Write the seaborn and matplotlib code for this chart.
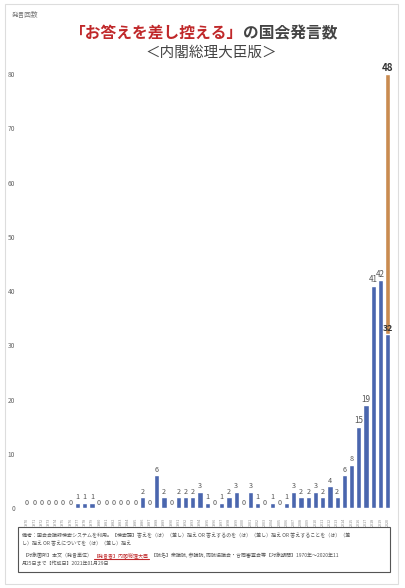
#!/usr/bin/env python3
import numpy as np
import pandas as pd
import seaborn as sns
import matplotlib as mpl
import matplotlib.pyplot as plt
from matplotlib.patches import Rectangle

sns.set_theme(style="white")
plt.rcParams["font.family"] = ["Noto Sans CJK JP", "DejaVu Sans"]

# data: statements per year (blue) and extra part for 2020 (orange, stacked)
years = [str(y) for y in range(1970, 2021)]
counts = [0, 0, 0, 0, 0, 0, 0, 1, 1, 1,
          0, 0, 0, 0, 0, 0, 2, 0, 6, 2,
          0, 2, 2, 2, 3, 1, 0, 1, 2, 3,
          0, 3, 1, 0, 1, 0, 1, 3, 2, 2,
          3, 2, 4, 2, 6, 8, 15, 19, 41, 42,
          32]
extra = [0] * 50 + [48]

blue = "#4a66ae"
orange = "#c98b50"

df = pd.DataFrame({"year": years, "count": counts, "extra": extra})
df["total"] = df["count"] + df["extra"]

fig = plt.figure(figsize=(4.06, 5.88), dpi=100)
ax = fig.add_axes([0.0576, 0.136, 0.906, 0.738])

sns.barplot(data=df, x="year", y="total", color=orange, saturation=1,
            width=0.72, ax=ax)
sns.barplot(data=df, x="year", y="count", color=blue, saturation=1,
            width=0.72, ax=ax)

ax.set_ylim(0, 80)
ax.set_xlim(-0.5, 50.5)
ax.set_yticks(range(0, 81, 10))
ax.tick_params(axis="y", labelsize=4.8, labelcolor="#666666", length=0, pad=6)
ax.tick_params(axis="x", labelsize=2.7, labelcolor="#888888", length=0,
               pad=7, rotation=90)
ax.set_xlabel("")
ax.set_ylabel("")
for s in ax.spines.values():
    s.set_visible(False)

# value labels
orange_bars = ax.containers[0]
blue_bars = ax.containers[1]
ax.bar_label(orange_bars, labels=[""] * 50 + ["48"], padding=1,
             fontsize=7, fontweight="bold", color="#333333")
blue_txt = ax.bar_label(blue_bars, labels=[str(v) for v in counts], padding=1,
                        fontsize=5.2, color="#555555")
for t, v in zip(blue_txt, counts):
    if v >= 15:
        t.set_fontsize(5.8)
    if v == 32:
        t.set_fontsize(6.3)
        t.set_fontweight("bold")
        t.set_color("#333333")

# titles
fig.text(0.03, 0.974, "発言回数", fontsize=4.8, color="#777777", va="center")
fig.text(0.598, 0.944, "「お答えを差し控える」", fontsize=11.3,
         fontweight="bold", color="#c0282a", ha="right", va="center")
fig.text(0.598, 0.944, "の国会発言数", fontsize=11.3, fontweight="bold",
         color="#444444", ha="left", va="center")
fig.text(0.52, 0.91, "＜内閣総理大臣版＞", fontsize=10.5, color="#444444",
         ha="center", va="center")

# outer card frame and note box
fig.patches.append(Rectangle((0.012, 0.006), 0.968, 0.988, transform=fig.transFigure,
                             fill=False, edgecolor="#dddddd", linewidth=0.8))
fig.patches.append(Rectangle((0.045, 0.027), 0.915, 0.076, transform=fig.transFigure,
                             fill=False, edgecolor="#555555", linewidth=0.8))

note_kw = dict(fontsize=3.6, color="#555555", va="center")
x0 = 0.055
fig.text(x0, 0.089, "備考：国会会議録検索システムを利用。【検索語】答えを（は）（差し）控え OR "
         "答えするのを（は）（差し）控え OR 答えすることを（は）（差", **note_kw)
fig.text(x0, 0.075, "し）控え OR 答えについてを（は）（差し）控え", **note_kw)
t1 = fig.text(x0, 0.056, "【対象箇所】本文（発言単位）", **note_kw)
fig.canvas.draw()
r = fig.canvas.get_renderer()
bb = t1.get_window_extent(r).transformed(fig.transFigure.inverted())
t2 = fig.text(bb.x1 + 0.004, 0.056, "【発言者】内閣総理大臣", fontsize=3.6,
              color="#c0282a", va="center")
bb2 = t2.get_window_extent(r).transformed(fig.transFigure.inverted())
fig.add_artist(mpl.lines.Line2D([bb2.x0, bb2.x1], [0.049, 0.049],
                                transform=fig.transFigure, color="#c0282a",
                                linewidth=0.8))
fig.text(bb2.x1 + 0.004, 0.056, "【院名】衆議院, 参議院, 両院協議会・合同審査会等"
         "【対象期間】1970年～2020年11", **note_kw)
fig.text(x0, 0.042, "月25日まで【作成日】2021年01月29日", **note_kw)

fig.savefig("out.png", dpi=100)
